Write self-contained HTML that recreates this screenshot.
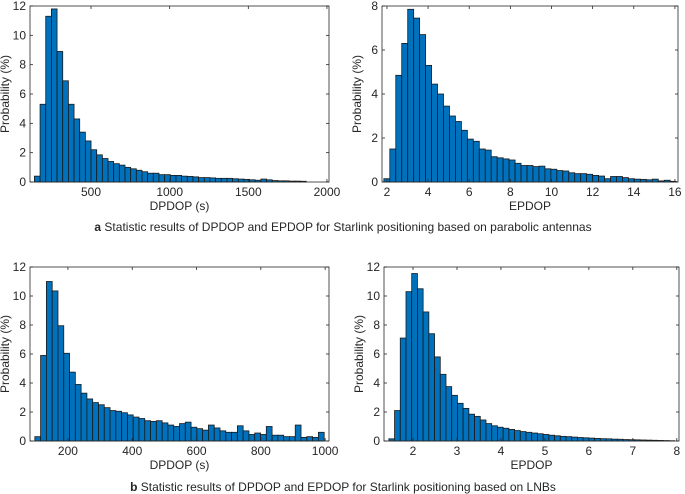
<!DOCTYPE html>
<html><head><meta charset="utf-8"><style>
body{margin:0;background:#fff;width:685px;height:494px;overflow:hidden;font-family:"Liberation Sans",Arial,sans-serif}
svg{display:block}
.tk{font-size:12px;fill:#262626}
.cap{font-size:12px;fill:#262626}
</style></head><body>
<svg id="fig" width="685" height="494">
<text class="cap" x="343" y="231" text-anchor="middle"><tspan font-weight="bold">a</tspan> Statistic results of DPDOP and EPDOP for Starlink positioning based on parabolic antennas</text>
<text class="cap" x="343" y="491" text-anchor="middle"><tspan font-weight="bold">b</tspan> Statistic results of DPDOP and EPDOP for Starlink positioning based on LNBs</text>
</svg>
<script>
const aDpdopVals=[0.4,5.3,11.3,11.8,8.9,6.9,5.3,4.3,3.4,2.8,2.2,1.85,1.6,1.4,1.25,1.15,1.0,0.9,0.8,0.7,0.6,0.6,0.5,0.5,0.45,0.45,0.4,0.38,0.35,0.3,0.3,0.28,0.25,0.25,0.25,0.22,0.2,0.18,0.15,0.12,0.2,0.15,0.1,0.08,0.08,0.06,0.06,0.05];
const aDpdopTicks=[500,1000,1500,2000];
const aEpdopVals=[0.15,1.5,4.85,6.3,7.85,7.45,6.7,5.3,4.45,4.0,3.45,3.0,2.75,2.35,1.95,1.85,1.5,1.45,1.15,1.1,1.05,1.0,0.85,0.75,0.75,0.7,0.72,0.6,0.58,0.52,0.5,0.42,0.38,0.38,0.35,0.3,0.27,0.15,0.25,0.25,0.2,0.15,0.13,0.12,0.1,0.13,0.05,0.08,0.03];
const aEpdopTicks=[2,4,6,8,10,12,14,16];
const bDpdopVals=[0.3,5.9,11.0,10.35,7.95,6.05,4.75,3.9,3.3,2.9,2.65,2.5,2.3,2.1,2.05,1.95,1.8,1.65,1.55,1.4,1.35,1.4,1.25,1.1,1.0,1.2,1.3,0.95,0.85,0.75,1.1,0.9,0.7,0.6,0.6,1.05,0.7,0.45,0.55,0.45,1.0,0.4,0.4,0.3,0.3,1.1,0.25,0.3,0.25,0.6];
const bDpdopTicks=[200,400,600,800,1000];
const bEpdopVals=[0.15,2.1,7.1,10.3,11.55,10.5,8.9,7.4,5.8,4.6,3.75,3.15,2.6,2.25,1.85,1.7,1.45,1.2,1.05,0.95,0.88,0.8,0.72,0.65,0.6,0.55,0.5,0.45,0.4,0.36,0.32,0.3,0.27,0.24,0.22,0.2,0.18,0.16,0.15,0.13,0.12,0.1,0.09,0.08,0.07,0.06,0.05,0.04,0.03,0.02];
const bEpdopTicks=[2,3,4,5,6,7,8];

const NS='http://www.w3.org/2000/svg';
const svg=document.getElementById('fig');
function mk(tag,at,parent){const e=document.createElementNS(NS,tag);for(const k in at)e.setAttribute(k,at[k]);(parent||svg).appendChild(e);return e;}
function panel(name,box,xmin,xmax,ymax,ystep,bin0,binw,vals,xticks,xlabel){
  const g=mk('g',{});
  
  
  const L=box[0],T=box[1],R=box[2],B=box[3];
  const sx=v=>L+(v-xmin)/(xmax-xmin)*(R-L);
  const sy=v=>B-v/ymax*(B-T);
  vals.forEach((v,i)=>{
    const x0=sx(bin0+i*binw),x1=sx(bin0+(i+1)*binw);
    const r=mk('rect',{x:x0,y:sy(v),width:x1-x0,height:B-sy(v),fill:'#0072BD',stroke:'#1a1a1a','stroke-width':0.8},g);
    
    
  });
  mk('rect',{x:L,y:T,width:R-L,height:B-T,fill:'none',stroke:'#262626','stroke-width':0.8},g);
  for(let v=0;v<=ymax+1e-9;v+=ystep){
    const y=sy(v);
    mk('line',{x1:L,x2:L+3,y1:y,y2:y,stroke:'#262626','stroke-width':0.8},g);
    mk('line',{x1:R,x2:R-3,y1:y,y2:y,stroke:'#262626','stroke-width':0.8},g);
    const t=mk('text',{x:L-4,y:y+4,'text-anchor':'end',class:'tk'},g);t.textContent=v;
    
    
  }
  xticks.forEach(v=>{
    const x=sx(v);
    mk('line',{x1:x,x2:x,y1:B,y2:B-3,stroke:'#262626','stroke-width':0.8},g);
    mk('line',{x1:x,x2:x,y1:T,y2:T+3,stroke:'#262626','stroke-width':0.8},g);
    const t=mk('text',{x:x,y:B+14,'text-anchor':'middle',class:'tk'},g);t.textContent=v;
    
    
  });
  const xl=mk('text',{x:(L+R)/2,y:B+28,'text-anchor':'middle',class:'tk'},g);xl.textContent=xlabel;
  
  
  const cy=(T+B)/2;
  const yl=mk('text',{x:L-21,y:cy,'text-anchor':'middle',class:'tk',transform:`rotate(-90 ${L-21} ${cy})`},g);yl.textContent='Probability (%)';
  
  
}
panel('panel-a-dpdop',[30,6,329,182],112,2013,12,2,140,36,aDpdopVals,aDpdopTicks,'DPDOP (s)');
panel('panel-a-epdop',[382,6,678,182],1.76,16.15,8,2,1.85,0.29,aEpdopVals,aEpdopTicks,'EPDOP');
panel('panel-b-dpdop',[30,267,329,441],82,1012,12,2,97,18,bDpdopVals,bDpdopTicks,'DPDOP (s)');
panel('panel-b-epdop',[384,267,679,441],1.34,8.05,12,2,1.45,0.13,bEpdopVals,bEpdopTicks,'EPDOP');
</script>
</body></html>
